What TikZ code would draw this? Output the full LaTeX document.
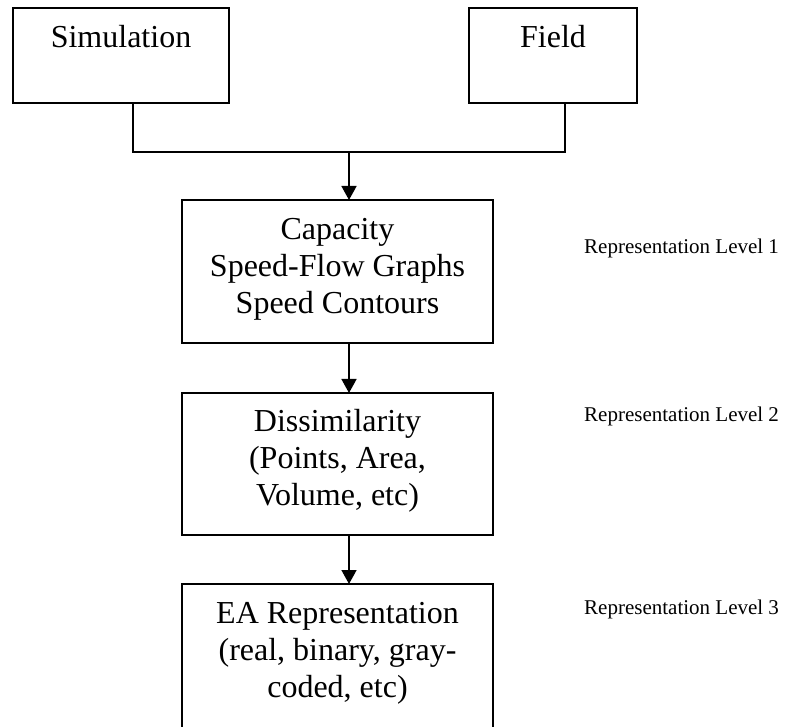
\documentclass[tikz,border=0pt]{standalone}
\usepackage{fontspec}
\setmainfont{Liberation Serif}
\usetikzlibrary{arrows.meta}
% centred multi-line text whose baseline is that of its first line
\newcommand{\stacklines}[1]{\begin{tabular}[t]{@{}c@{}}#1\end{tabular}}
\begin{document}
\begin{tikzpicture}[x=1pt,y=-1pt,
  box/.style={draw, line width=2pt, rectangle, inner sep=0pt, outer sep=0pt, anchor=north west},
  boxtext/.style={anchor=base, inner sep=0pt, font=\fontsize{32}{37}\selectfont},
  leveltext/.style={anchor=base west, inner sep=0pt, font=\fontsize{21}{24}\selectfont},
  conn/.style={line width=1.6pt},
  flow/.style={conn, -{Triangle[width=15pt,length=14pt]}}]
\useasboundingbox (0,0) rectangle (788,727);
\clip (0,0) rectangle (788,727);

% source boxes
\node[box, minimum width=216pt, minimum height=95pt] (sim) at (13,8) {};
\node[box, minimum width=168pt, minimum height=95pt] (fld) at (469,8) {};
\node[boxtext] (simT) at (121,48) {Simulation};
\node[boxtext] (fldT) at (553,48) {Field};

% processing chain
\node[box, minimum width=311pt, minimum height=143pt] (cap) at (182,200) {};
\node[box, minimum width=311pt, minimum height=142pt] (dis) at (182,393) {};
\node[box, minimum width=311pt, minimum height=144pt] (ea)  at (182,584) {};
\node[boxtext] (capT) at (337.5,240) {\stacklines{Capacity\\Speed-Flow Graphs\\Speed Contours}};
\node[boxtext] (disT) at (337.5,432) {\stacklines{Dissimilarity\\(Points, Area,\\Volume, etc)}};
\node[boxtext] (eaT)  at (337.5,623) {\stacklines{EA Representation\\(real, binary, gray-\\coded, etc)}};

% level labels
\node[leveltext] (lv1) at (584,254) {Representation Level 1};
\node[leveltext] (lv2) at (584,422) {Representation Level 2};
\node[leveltext] (lv3) at (584,614) {Representation Level 3};

% connectors
\coordinate (j) at (349,152);
\draw[conn] ([xshift=12pt]sim.south) |- (j) -| ([xshift=12pt]fld.south);
\draw[flow] (j) -- (j |- cap.north);
\draw[flow] (cap.south -| j) -- (dis.north -| j);
\draw[flow] (dis.south -| j) -- (ea.north -| j);
\end{tikzpicture}
\end{document}
